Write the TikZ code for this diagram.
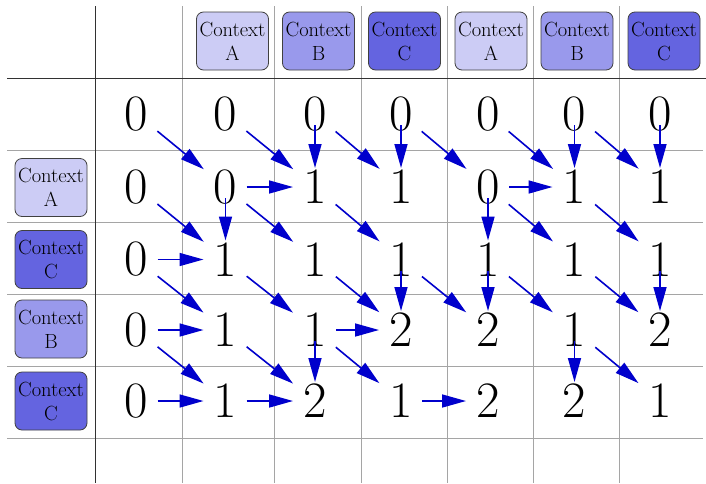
\documentclass[tikz,border=0pt]{standalone}
\usetikzlibrary{arrows.meta}
\definecolor{ctxA}{RGB}{204,204,245}
\definecolor{ctxB}{RGB}{153,153,236}
\definecolor{ctxC}{RGB}{100,100,224}
\definecolor{arrowblue}{RGB}{0,0,204}
\definecolor{gridlight}{RGB}{165,165,165}
\definecolor{griddark}{RGB}{50,50,50}
\begin{document}
\begin{tikzpicture}[x=1pt,y=-1pt,
  ctx/.style={draw=black!75, line width=0.8pt, rounded corners=7pt,
    minimum width=72pt, minimum height=58pt, align=center,
    font=\rmfamily\fontsize{20.5}{24}\selectfont, inner sep=0pt},
  num/.style={font=\rmfamily\fontsize{51}{60}\selectfont, inner sep=0pt},
  arr/.style={draw=arrowblue, line width=1.6pt, -{Triangle[length=24pt,width=13pt]}},
  dg/.style={arr, shorten <=27pt, shorten >=28pt},
  hz/.style={arr, shorten <=21pt, shorten >=22pt},
  vt/.style={arr, shorten <=11pt, shorten >=19pt},
  lightline/.style={draw=gridlight, line width=0.9pt},
  darkline/.style={draw=griddark, line width=1pt}]
\useasboundingbox (0,0) rectangle (706,483);
\fill[white] (0,0) rectangle (706,483);
% grid
\foreach \gx in {182,274,361,447,533,619} \draw[lightline] (\gx,6) -- (\gx,483);
\foreach \gy in {150,222,294,366,438} \draw[lightline] (7,\gy) -- (703,\gy);
\draw[darkline] (95.5,6) -- (95.5,483);
\draw[darkline] (7,78) -- (706,78);
% column headers
\node[ctx, fill=ctxA] (hA1) at (232.5,41) {Context\\A};
\node[ctx, fill=ctxB] (hB1) at (318.5,41) {Context\\B};
\node[ctx, fill=ctxC] (hC1) at (404.5,41) {Context\\C};
\node[ctx, fill=ctxA] (hA2) at (491,41) {Context\\A};
\node[ctx, fill=ctxB] (hB2) at (577,41) {Context\\B};
\node[ctx, fill=ctxC] (hC2) at (664,41) {Context\\C};
% row headers
\node[ctx, fill=ctxA] (rA) at (51,187.5) {Context\\A};
\node[ctx, fill=ctxC] (rC1) at (51,259.5) {Context\\C};
\node[ctx, fill=ctxB] (rB) at (51,329) {Context\\B};
\node[ctx, fill=ctxC] (rC2) at (51,401) {Context\\C};
% row 0
\node[num] (n00) at (136.5,114) {0};
\node[num] (n01) at (225.5,114) {0};
\node[num] (n02) at (315,114) {0};
\node[num] (n03) at (401,114) {0};
\node[num] (n04) at (488,114) {0};
\node[num] (n05) at (574.5,114) {0};
\node[num] (n06) at (660,114) {0};
% row 1
\node[num] (n10) at (136.5,187) {0};
\node[num] (n11) at (225.5,187) {0};
\node[num] (n12) at (315,187) {1};
\node[num] (n13) at (401,187) {1};
\node[num] (n14) at (488,187) {0};
\node[num] (n15) at (574.5,187) {1};
\node[num] (n16) at (660,187) {1};
% row 2
\node[num] (n20) at (136.5,259.5) {0};
\node[num] (n21) at (225.5,259.5) {1};
\node[num] (n22) at (315,259.5) {1};
\node[num] (n23) at (401,259.5) {1};
\node[num] (n24) at (488,259.5) {1};
\node[num] (n25) at (574.5,259.5) {1};
\node[num] (n26) at (660,259.5) {1};
% row 3
\node[num] (n30) at (136.5,330) {0};
\node[num] (n31) at (225.5,330) {1};
\node[num] (n32) at (315,330) {1};
\node[num] (n33) at (401,330) {2};
\node[num] (n34) at (488,330) {2};
\node[num] (n35) at (574.5,330) {1};
\node[num] (n36) at (660,330) {2};
% row 4
\node[num] (n40) at (136.5,401) {0};
\node[num] (n41) at (225.5,401) {1};
\node[num] (n42) at (315,401) {2};
\node[num] (n43) at (401,401) {1};
\node[num] (n44) at (488,401) {2};
\node[num] (n45) at (574.5,401) {2};
\node[num] (n46) at (660,401) {1};
% diagonal arrows
\foreach \s/\t in {00/11,01/12,02/13,03/14,04/15,05/16,
                   10/21,11/22,12/23,14/25,15/26,
                   20/31,21/32,22/33,23/34,24/35,25/36,
                   30/41,31/42,32/43,35/46}
  \draw[dg] (n\s.center) -- (n\t.center);
% horizontal arrows
\foreach \s/\t in {11/12,14/15,20/21,30/31,32/33,40/41,41/42,43/44}
  \draw[hz] (n\s.center) -- (n\t.center);
% vertical arrows
\foreach \s/\t in {02/12,03/13,05/15,06/16,11/21,14/24,23/33,24/34,26/36,32/42,35/45}
  \draw[vt] (n\s.center) -- (n\t.center);
\end{tikzpicture}
\end{document}
